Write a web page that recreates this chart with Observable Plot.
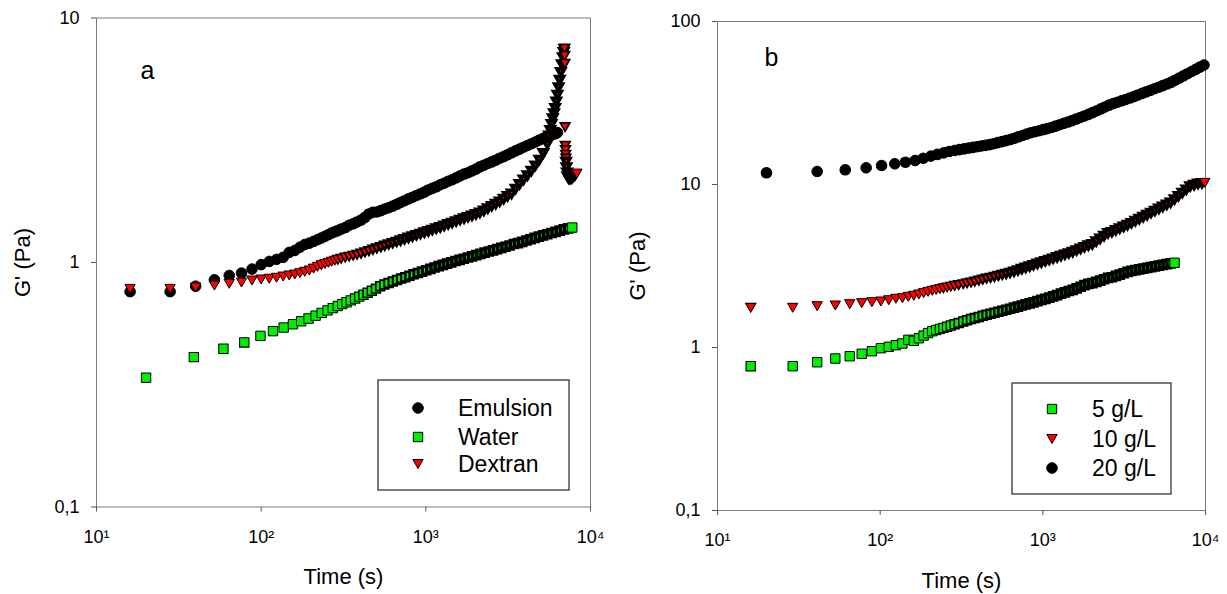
<!DOCTYPE html>
<html><head><meta charset="utf-8">
<script src="https://cdn.jsdelivr.net/npm/d3@7"></script>
<script src="https://cdn.jsdelivr.net/npm/@observablehq/plot@0.6"></script>
<style>
html,body{margin:0;padding:0;background:#fff;}
#wrap{position:relative;width:1227px;height:594px;overflow:hidden;background:#fff;}
#pa,#pb{position:absolute;top:0;}
#pa{left:0;} #pb{left:615px;}
</style></head><body>
<div id="wrap"><div id="pa"></div><div id="pb"></div></div>
<script>
// ---------- Panel a data (time in s, G' in Pa) ----------
const emulsionT = [16, 28, 40, 52, 64, 76, 88, 100, 112, 124, 136, 148, 160, 172, 184, 196, 208, 220, 232, 244, 256, 268, 280, 292, 306, 324, 342, 362, 382, 404, 427, 451, 477, 504, 533, 563, 595, 629, 665, 703, 743, 785, 830, 877, 927, 980, 1036, 1095, 1157, 1223, 1293, 1367, 1445, 1527, 1614, 1706, 1803, 1906, 2015, 2130, 2251, 2379, 2515, 2658, 2810, 2970, 3139, 3318, 3507, 3707, 3918, 4141, 4377, 4627, 4890, 5169, 5464, 5775, 6104, 6300];
const emulsionG = [0.76, 0.76, 0.80, 0.85, 0.885, 0.905, 0.94, 0.98, 1.01, 1.03, 1.05, 1.10, 1.12, 1.155, 1.185, 1.20, 1.22, 1.24, 1.26, 1.28, 1.30, 1.32, 1.335, 1.35, 1.37, 1.39, 1.42, 1.44, 1.465, 1.49, 1.53, 1.58, 1.605, 1.61, 1.63, 1.655, 1.675, 1.70, 1.73, 1.76, 1.79, 1.82, 1.85, 1.88, 1.91, 1.94, 1.98, 2.01, 2.04, 2.08, 2.11, 2.15, 2.18, 2.22, 2.26, 2.30, 2.33, 2.37, 2.41, 2.46, 2.50, 2.54, 2.58, 2.62, 2.67, 2.71, 2.76, 2.81, 2.86, 2.91, 2.96, 3.01, 3.06, 3.11, 3.17, 3.22, 3.28, 3.32, 3.36, 3.40];

const waterT = [20, 39, 59, 79, 99, 118, 137, 156, 175, 194, 214, 233, 253, 272, 292, 311, 330, 350, 372, 394, 418, 443, 470, 498, 528, 560, 594, 630, 668, 708, 750, 795, 843, 894, 948, 1005, 1065, 1129, 1197, 1269, 1345, 1426, 1512, 1603, 1699, 1801, 1909, 2024, 2146, 2275, 2412, 2557, 2711, 2874, 3047, 3230, 3424, 3630, 3848, 4079, 4324, 4584, 4860, 5152, 5462, 5790, 6138, 6507, 6898, 7313, 7750];
const waterG = [0.338, 0.410, 0.444, 0.471, 0.501, 0.524, 0.542, 0.559, 0.575, 0.590, 0.606, 0.622, 0.637, 0.651, 0.664, 0.676, 0.688, 0.700, 0.712, 0.725, 0.738, 0.752, 0.766, 0.782, 0.800, 0.812, 0.824, 0.836, 0.848, 0.860, 0.871, 0.883, 0.895, 0.906, 0.918, 0.930, 0.942, 0.954, 0.966, 0.978, 0.990, 1.002, 1.014, 1.025, 1.036, 1.048, 1.060, 1.072, 1.085, 1.097, 1.109, 1.121, 1.134, 1.147, 1.160, 1.174, 1.190, 1.200, 1.215, 1.230, 1.245, 1.260, 1.275, 1.290, 1.305, 1.320, 1.335, 1.350, 1.365, 1.378, 1.390];

const dextranT = [16, 28, 40, 52, 64, 76, 88, 100, 112, 124, 136, 148, 160, 172, 184, 196, 208, 220, 232, 244, 256, 268, 280, 292, 306, 324, 342, 362, 382, 404, 427, 451, 477, 504, 533, 563, 595, 629, 665, 703, 743, 785, 830, 877, 927, 980, 1036, 1095, 1157, 1223, 1293, 1367, 1445, 1527, 1614, 1706, 1803, 1906, 2015, 2130, 2251, 2379, 2515, 2658, 2810, 2970, 3139, 3318, 3507, 3707, 3918, 4141, 4377, 4627, 4890, 5169, 5464, 5600, 5700, 5800, 5900, 6000, 6100, 6200, 6300, 6400, 6500, 6600, 6700, 6800, 6870, 6920, 6950, 6970, 6990, 7010, 7030, 7050, 7070, 7090, 7110, 7150, 7200, 7250, 7350, 7500, 7700, 7900, 8100, 8250];
const dextranG = [0.78, 0.78, 0.79, 0.805, 0.818, 0.828, 0.844, 0.852, 0.858, 0.866, 0.876, 0.885, 0.893, 0.904, 0.916, 0.927, 0.944, 0.960, 0.975, 0.986, 0.997, 1.007, 1.017, 1.026, 1.036, 1.047, 1.056, 1.066, 1.076, 1.087, 1.100, 1.114, 1.128, 1.142, 1.156, 1.171, 1.185, 1.200, 1.215, 1.230, 1.246, 1.262, 1.278, 1.294, 1.310, 1.327, 1.343, 1.360, 1.377, 1.393, 1.413, 1.433, 1.453, 1.473, 1.494, 1.513, 1.533, 1.554, 1.576, 1.597, 1.629, 1.664, 1.700, 1.736, 1.774, 1.818, 1.866, 1.91, 2.00, 2.09, 2.18, 2.27, 2.37, 2.49, 2.63, 2.80, 3.05, 3.30, 3.48, 3.68, 3.88, 4.07, 4.28, 4.55, 4.85, 5.20, 5.58, 6.00, 6.45, 6.90, 7.25, 7.45, 7.50, 7.00, 6.50, 3.58, 3.00, 2.88, 2.76, 2.66, 2.58, 2.45, 2.33, 2.25, 2.21, 2.20, 2.21, 2.25, 2.29, 2.31];

// ---------- Panel b data ----------
const lowT = [16, 29, 41, 53, 65, 77, 89, 101, 113, 125, 137, 149, 161, 173, 185, 197, 209, 221, 233, 245, 258, 272, 287, 304, 324, 342, 362, 382, 404, 427, 451, 477, 504, 533, 563, 595, 629, 665, 703, 743, 785, 830, 877, 927, 980, 1036, 1095, 1157, 1223, 1293, 1367, 1445, 1527, 1614, 1706, 1803, 1906, 2015, 2130, 2251, 2379, 2515, 2658, 2810, 2970, 3139, 3318, 3507, 3707, 3918, 4141, 4377, 4627, 4890, 5169, 5464, 5775, 6104, 6452];
const g5G = [0.768, 0.768, 0.812, 0.856, 0.884, 0.915, 0.949, 0.99, 1.01, 1.033, 1.058, 1.115, 1.099, 1.14, 1.184, 1.226, 1.259, 1.28, 1.30, 1.32, 1.34, 1.363, 1.388, 1.414, 1.444, 1.47, 1.494, 1.516, 1.541, 1.565, 1.589, 1.61, 1.633, 1.657, 1.68, 1.704, 1.728, 1.755, 1.782, 1.81, 1.838, 1.866, 1.894, 1.925, 1.958, 1.99, 2.022, 2.057, 2.097, 2.138, 2.179, 2.221, 2.255, 2.307, 2.36, 2.413, 2.459, 2.48, 2.527, 2.573, 2.622, 2.671, 2.698, 2.749, 2.80, 2.853, 2.907, 2.949, 2.98, 3.012, 3.044, 3.077, 3.11, 3.144, 3.178, 3.212, 3.247, 3.282, 3.31];

const midT = [16, 29, 41, 53, 65, 77, 89, 101, 113, 125, 137, 149, 161, 173, 185, 197, 209, 221, 233, 245, 258, 272, 287, 304, 324, 342, 362, 382, 404, 427, 451, 477, 504, 533, 563, 595, 629, 665, 703, 743, 785, 830, 877, 927, 980, 1036, 1095, 1157, 1223, 1293, 1367, 1445, 1527, 1614, 1706, 1803, 1906, 2015, 2130, 2251, 2379, 2515, 2658, 2810, 2970, 3139, 3318, 3507, 3707, 3918, 4141, 4377, 4627, 4890, 5169, 5464, 5775, 6104, 6452, 6820, 7209, 7620, 8054, 8513, 8999, 9512, 9900];
const g10G = [1.752, 1.752, 1.792, 1.81, 1.843, 1.87, 1.897, 1.915, 1.95, 1.99, 2.007, 2.046, 2.076, 2.115, 2.156, 2.194, 2.227, 2.255, 2.281, 2.307, 2.334, 2.361, 2.387, 2.415, 2.446, 2.473, 2.499, 2.534, 2.571, 2.609, 2.646, 2.677, 2.715, 2.753, 2.791, 2.83, 2.869, 2.921, 2.975, 3.03, 3.086, 3.143, 3.202, 3.262, 3.324, 3.386, 3.449, 3.511, 3.577, 3.644, 3.712, 3.78, 3.854, 3.945, 4.036, 4.131, 4.228, 4.30, 4.471, 4.647, 4.832, 5.022, 5.104, 5.235, 5.37, 5.507, 5.646, 5.798, 5.966, 6.141, 6.319, 6.506, 6.696, 6.893, 7.095, 7.303, 7.516, 7.745, 8.11, 8.49, 8.889, 9.307, 9.743, 9.925, 10.1, 10.17, 10.23];

const highT = [20, 41, 61, 82, 102, 123, 143, 164, 184, 205, 225, 246, 266, 287, 307, 328, 350, 372, 394, 418, 443, 470, 498, 528, 560, 594, 630, 668, 708, 750, 795, 843, 894, 948, 1005, 1065, 1129, 1197, 1269, 1345, 1426, 1512, 1603, 1699, 1801, 1909, 2024, 2146, 2275, 2412, 2557, 2711, 2874, 3047, 3230, 3424, 3630, 3848, 4079, 4324, 4584, 4860, 5152, 5462, 5790, 6138, 6507, 6898, 7313, 7750, 8216, 8710, 9233, 9790];
const g20G = [11.8, 12.02, 12.31, 12.66, 13.08, 13.4, 13.7, 14.03, 14.49, 14.94, 15.30, 15.64, 15.95, 16.18, 16.36, 16.55, 16.73, 16.90, 17.06, 17.23, 17.39, 17.56, 17.80, 18.06, 18.32, 18.59, 18.87, 19.23, 19.61, 19.98, 20.38, 20.77, 21.08, 21.39, 21.71, 22.03, 22.38, 22.81, 23.25, 23.70, 24.16, 24.66, 25.21, 25.76, 26.34, 26.92, 27.59, 28.34, 29.11, 29.90, 30.70, 31.37, 31.99, 32.62, 33.26, 33.91, 34.65, 35.43, 36.22, 37.01, 37.84, 38.67, 39.54, 40.43, 41.33, 42.31, 43.64, 45.00, 46.41, 47.85, 49.33, 50.87, 52.47, 54.09];

// recording interval of each series (s), read from the spacing of the first points
const stepEmulsion = 12, stepWater = 19.5, stepDextran = 12;
const step5 = 12, step10 = 12, step20 = 20.5;

// ---------- Axis ticks / labels ----------
const xTicks = [10, 100, 1000, 10000];
const yTicksA = [0.1, 1, 10];
const yTicksB = [0.1, 1, 10, 100];
const legendA = ["Emulsion", "Water", "Dextran"];
const legendB = ["5 g/L", "10 g/L", "20 g/L"];

// ---------- styling ----------
const FONT = "'Liberation Sans', Arial, Helvetica, sans-serif";
const GREEN = "#00ee00", RED = "#ff0000", BLACK = "#000000";
const R = 5.3;
const triangleDown = {
  draw(ctx, size) {
    const r = Math.sqrt(size / Math.PI);
    const w = 0.975 * r, h = 0.85 * r;
    ctx.moveTo(-w, -h); ctx.lineTo(w, -h); ctx.lineTo(0, h); ctx.closePath();
  }
};
const SUP = {1: "\u00b9", 2: "\u00b2", 3: "\u00b3", 4: "\u2074"};
const xFmt = d => "10" + SUP[Math.round(Math.log10(d))];
const yFmt = d => String(d).replace(".", ",");

// Each drawn point stands for m recorded points of the original (interval / recording step);
// its outline thickens with m to mimic the overplotted outlines, size shrinks to keep the band width.
const outline = d => Math.max(1, Math.min(3.5, d.m));
const radius = d => R - (outline(d) - 1) * 0.5;

function rows(t, g, step) {
  const n = Math.min(t.length, g.length);
  const out = [];
  for (let i = 0; i < n; i++) out.push({t: t[i], g: g[i], m: i < n - 1 ? (t[i + 1] - t[i]) / step : 1});
  return out;
}

function series(data, symbol, fill) {
  return Plot.dot(data, {x: "t", y: "g", r: radius, symbol, fill, stroke: BLACK, strokeWidth: outline, sort: null});
}

function panel({width, mL, mR, mT, mB, yDomain, yTicks, letter, letterDx, letterDy, marks}) {
  return Plot.plot({
    width, height: 594,
    marginLeft: mL, marginRight: mR, marginTop: mT, marginBottom: mB,
    style: {fontFamily: FONT, fontSize: "18px", color: "#000", background: "#fff", overflow: "visible"},
    x: {type: "log", domain: [10, 10000], label: null},
    y: {type: "log", domain: yDomain, label: null},
    r: {type: "identity"},
    marks: [
      Plot.frame({stroke: "#7a7a7a", strokeWidth: 1}),
      Plot.axisX({ticks: xTicks, tickFormat: xFmt, tickSize: 5, tickPadding: 18, fontSize: 18, stroke: "#555", fill: "#000", label: null}),
      Plot.axisY({ticks: yTicks, tickFormat: yFmt, tickSize: 5, tickPadding: 12, fontSize: 18, stroke: "#555", fill: "#000", label: null}),
      ...marks,
      Plot.text([letter], {text: d => d, frameAnchor: "top-left", dx: letterDx, dy: letterDy, fontSize: 25, textAnchor: "middle", lineAnchor: "middle"}),
      Plot.text(["Time (s)"], {text: d => d, frameAnchor: "bottom", dy: 70, fontSize: 22, textAnchor: "middle", lineAnchor: "middle"}),
      Plot.text(["G' (Pa)"], {text: d => d, frameAnchor: "left", dx: -(mL - 22), rotate: -90, fontSize: 22, textAnchor: "middle", lineAnchor: "middle"})
    ]
  });
}

function addLegend(svg, box, labels, syms) {
  const g = d3.select(svg).append("g").attr("font-family", FONT).attr("text-anchor", "start");
  g.append("rect").attr("x", box.x).attr("y", box.y).attr("width", box.w).attr("height", box.h)
    .attr("fill", "#fff").attr("stroke", "#333").attr("stroke-width", 1.3);
  labels.forEach((lab, i) => {
    const cy = box.y + box.rows[i];
    const s = syms[i];
    g.append("path").attr("transform", `translate(${box.sx},${cy})`)
      .attr("d", d3.symbol().type(s.type).size(Math.PI * R * R)())
      .attr("fill", s.fill).attr("stroke", BLACK).attr("stroke-width", 1);
    g.append("text").attr("x", box.tx).attr("y", cy).attr("dy", "0.35em")
      .attr("text-anchor", "start").attr("font-size", 23).attr("fill", "#000").text(lab);
  });
}

// ---------- Panel a ----------
const emulsion = rows(emulsionT, emulsionG, stepEmulsion);
const water = rows(waterT, waterG, stepWater);
const dextran = rows(dextranT, dextranG, stepDextran);

const svgA = panel({
  width: 615, mL: 96, mR: 25, mT: 17.5, mB: 87.5,
  yDomain: [0.1, 10], yTicks: yTicksA, letter: "a", letterDx: 51, letterDy: 53,
  marks: [
    series(emulsion, "circle", BLACK),
    series(water, "square", GREEN),
    series(dextran, triangleDown, RED)
  ]
});
document.getElementById("pa").appendChild(svgA);
addLegend(svgA, {x: 378, y: 380, w: 191, h: 110, rows: [28, 57, 84], sx: 418, tx: 458}, legendA,
  [{type: d3.symbolCircle, fill: BLACK}, {type: d3.symbolSquare, fill: GREEN}, {type: triangleDown, fill: RED}]);

// ---------- Panel b ----------
const g5 = rows(lowT, g5G, step5);
const g10 = rows(midT, g10G, step10);
const g20 = rows(highT, g20G, step20);

const svgB = panel({
  width: 612, mL: 102, mR: 22, mT: 21, mB: 84,
  yDomain: [0.1, 100], yTicks: yTicksB, letter: "b", letterDx: 54, letterDy: 36,
  marks: [
    series(g20, "circle", BLACK),
    series(g10, triangleDown, RED),
    series(g5, "square", GREEN)
  ]
});
document.getElementById("pb").appendChild(svgB);
addLegend(svgB, {x: 397, y: 383, w: 159, h: 111, rows: [26, 56, 85], sx: 437, tx: 477}, legendB,
  [{type: d3.symbolSquare, fill: GREEN}, {type: triangleDown, fill: RED}, {type: d3.symbolCircle, fill: BLACK}]);
</script>
</body></html>
